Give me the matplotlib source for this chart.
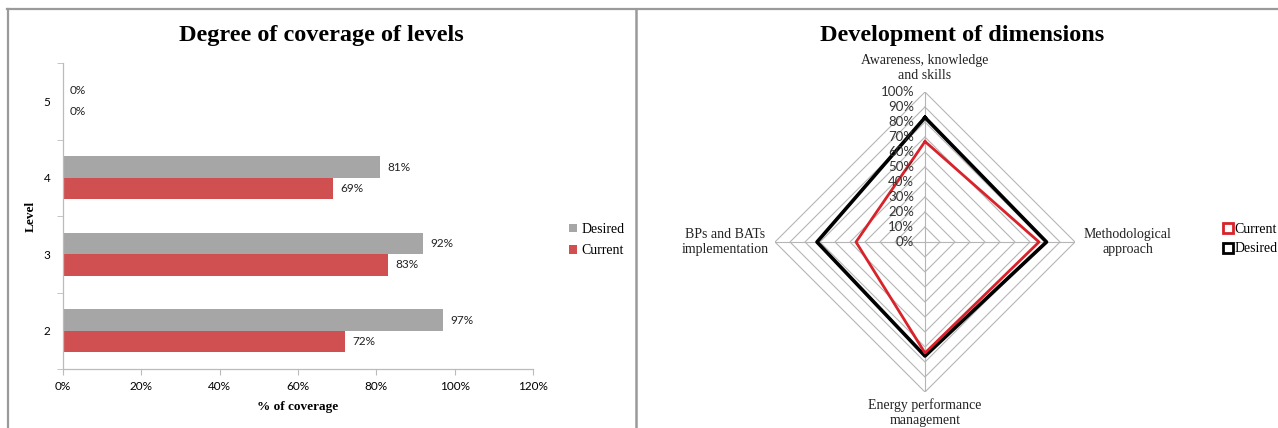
import numpy as np
import matplotlib
matplotlib.use("Agg")
import matplotlib.pyplot as plt
from matplotlib.lines import Line2D

# ---- data ----
levels = ["2", "3", "4", "5"]
desired_cov = [97, 92, 81, 0]
current_cov = [72, 83, 69, 0]
x_ticks = [0, 20, 40, 60, 80, 100, 120]

dimensions = ["Awareness, knowledge\nand skills", "Methodological\napproach",
              "Energy performance\nmanagement", "BPs and BATs\nimplementation"]
current_dim = [67, 76, 74, 46]
desired_dim = [83, 81, 76, 72]
ring_levels = [0, 10, 20, 30, 40, 50, 60, 70, 80, 90, 100]

W, H = 1278, 428
fig = plt.figure(figsize=(W / 100, H / 100), dpi=100)
fig.patch.set_facecolor("white")

serif = "Liberation Serif"
sans = "Lato"
GRAY = "#A6A6A6"
RED_BAR = "#D05052"

def fx(px):
    return px / W

def fy(py):
    return 1 - py / H

# panel frames
frame_col = "#9a9a9a"
fig.add_artist(Line2D([fx(7), fx(1278)], [fy(8.5), fy(8.5)], color=frame_col, lw=1.6))
fig.add_artist(Line2D([fx(7.5), fx(7.5)], [fy(8.5), fy(428)], color=frame_col, lw=1.6))
fig.add_artist(Line2D([fx(635.5), fx(635.5)], [fy(8.5), fy(428)], color=frame_col, lw=1.8))

# ---- left: horizontal bar chart ----
ax = fig.add_axes([fx(63), fy(369), fx(533 - 63), (369 - 63) / H])
y = np.arange(len(levels))
bh = 0.28
ax.barh(y + bh / 2, desired_cov, height=bh, color=GRAY, label="Desired")
ax.barh(y - bh / 2, current_cov, height=bh, color=RED_BAR, label="Current")
for yi, d, c in zip(y, desired_cov, current_cov):
    ax.text(d + 1.8, yi + bh / 2, f"{d}%", va="center", ha="left",
            fontsize=8.5, family=sans, color="#222222")
    ax.text(c + 1.8, yi - bh / 2, f"{c}%", va="center", ha="left",
            fontsize=8.5, family=sans, color="#222222")
ax.set_xlim(0, 120)
ax.set_ylim(-0.5, len(levels) - 0.5)
ax.set_xticks(x_ticks)
ax.set_xticklabels([f"{t}%" for t in x_ticks], family=sans, fontsize=8.5)
ax.set_yticks(y)
ax.set_yticklabels(levels, family=sans, fontsize=8.5)
ax.set_yticks(np.arange(-0.5, len(levels), 1), minor=True)
ax.tick_params(axis="y", which="major", length=0, pad=9)
ax.tick_params(axis="y", which="minor", length=4, color="#bbbbbb")
ax.tick_params(axis="x", length=4, color="#bbbbbb", pad=5)
for s in ["top", "right"]:
    ax.spines[s].set_visible(False)
for s in ["left", "bottom"]:
    ax.spines[s].set_color("#bbbbbb")
    ax.spines[s].set_linewidth(0.9)
ax.set_xlabel("% of coverage", family=serif, fontweight="bold", fontsize=9.5, labelpad=6)
ax.set_ylabel("Level", family=serif, fontweight="bold", fontsize=9.5, labelpad=5)
fig.text(fx(321), fy(35), "Degree of coverage of levels", family=serif,
         fontweight="bold", fontsize=17.5, ha="center", va="center")
handles, labels_ = ax.get_legend_handles_labels()
fig.legend(handles, labels_, loc="center left", bbox_to_anchor=(fx(563), fy(240)),
           frameon=False, prop={"family": serif, "size": 10}, handlelength=0.6,
           handleheight=0.6, handletextpad=0.3, labelspacing=0.6, borderaxespad=0)

# ---- right: radar chart ----
cx, cy, R = 925, 242, 150
pax = fig.add_axes([fx(cx - R), fy(cy + R), 2 * R / W, 2 * R / H], projection="polar")
pax.set_theta_zero_location("N")
pax.set_theta_direction(-1)
pax.set_ylim(0, 100)
pax.grid(False)
pax.spines["polar"].set_visible(False)
pax.set_xticks([])
pax.set_yticks([])
pax.patch.set_alpha(0)

theta = np.deg2rad([0, 90, 180, 270])
closed = np.append(theta, theta[0])
for r in ring_levels[1:]:
    pax.plot(closed, [r] * 5, color="#b5b5b5", lw=0.8, zorder=1)
for t in theta:
    pax.plot([t, t], [0, 100], color="#b5b5b5", lw=0.8, zorder=1)

pax.plot(closed, current_dim + current_dim[:1], color="#D8232A", lw=2.0, zorder=3,
         label="Current")
pax.plot(closed, desired_dim + desired_dim[:1], color="black", lw=2.6, zorder=2,
         label="Desired")

for r in ring_levels:
    pax.annotate(f"{r}%", xy=(0, r), xytext=(-11, 0), textcoords="offset pixels",
                 ha="right", va="center", family=sans, fontsize=9.5, color="#333333",
                 zorder=4)

label_pos = [(0, 100, 0, 10, "center", "bottom"),
             (np.pi / 2, 100, 9, 0, "left", "center"),
             (np.pi, 100, 0, -6, "center", "top"),
             (3 * np.pi / 2, 100, -6, 0, "right", "center")]
for (t, r, dx, dy, ha, va), name in zip(label_pos, dimensions):
    pax.annotate(name, xy=(t, r), xytext=(dx, dy), textcoords="offset pixels",
                 ha=ha, va=va, family=serif, fontsize=10, color="#222222",
                 linespacing=1.2, multialignment="center", annotation_clip=False)

fig.text(fx(962), fy(35), "Development of dimensions", family=serif,
         fontweight="bold", fontsize=17.5, ha="center", va="center")

sq_cur = Line2D([], [], marker="s", ls="none", markersize=7, markerfacecolor="white",
                markeredgecolor="#D8232A", markeredgewidth=2)
sq_des = Line2D([], [], marker="s", ls="none", markersize=7, markerfacecolor="white",
                markeredgecolor="black", markeredgewidth=2)
fig.legend([sq_cur, sq_des], ["Current", "Desired"], loc="center left",
           bbox_to_anchor=(fx(1218), fy(239)), frameon=False,
           prop={"family": serif, "size": 10}, handlelength=0.6, handletextpad=0.2,
           labelspacing=0.5, borderaxespad=0)

fig.savefig("out.png", dpi=100, facecolor="white")
